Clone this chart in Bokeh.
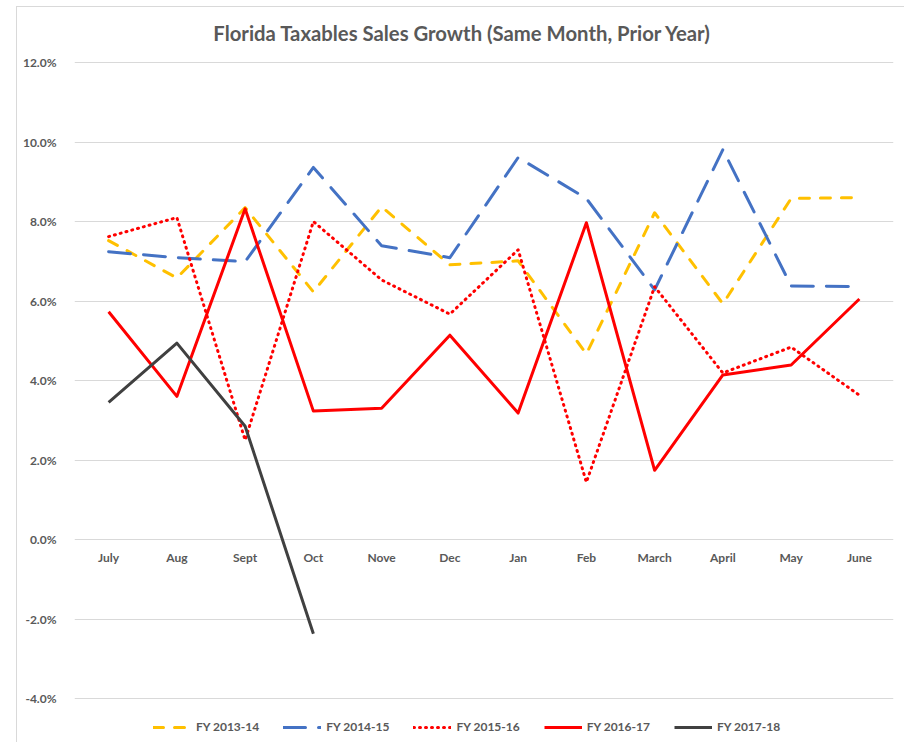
from bokeh.plotting import figure
from bokeh.models import Range1d, FixedTicker, PrintfTickFormatter, Legend, LegendItem, Label
from bokeh.core.properties import value
from bokeh.embed import file_html
from bokeh.resources import INLINE

months = ["July", "Aug", "Sept", "Oct", "Nove", "Dec", "Jan", "Feb", "March", "April", "May", "June"]

fy_2013_14 = [7.52, 6.58, 8.35, 6.23, 8.37, 6.91, 7.01, 4.67, 8.22, 5.93, 8.58, 8.60]
fy_2014_15 = [7.24, 7.09, 6.99, 9.36, 7.39, 7.09, 9.61, 8.58, 6.28, 9.81, 6.38, 6.36]
fy_2015_16 = [7.62, 8.10, 2.50, 8.00, 6.53, 5.67, 7.29, 1.44, 6.36, 4.19, 4.84, 3.63]
fy_2016_17 = [5.73, 3.60, 8.32, 3.23, 3.30, 5.14, 3.18, 7.97, 1.74, 4.14, 4.39, 6.05]
fy_2017_18 = [3.45, 4.94, 2.85, -2.37]

series_names = ["FY 2013-14", "FY 2014-15", "FY 2015-16", "FY 2016-17", "FY 2017-18"]
y_ticks = [-4, -2, 0, 2, 4, 6, 8, 10, 12]
title_text = "Florida Taxables Sales Growth (Same Month, Prior Year)"

FONT = "Lato"
GRAY = "#595959"

# the frame fills the whole chart area (like Excel's chart area); grid/ticks only -4%..12%
p = figure(x_range=months, y_range=Range1d(-5.132, 13.384), width=888, height=736,
           output_backend="svg", toolbar_location=None, x_axis_location=None,
           min_border_left=57, min_border_right=12, min_border_top=0, min_border_bottom=0)
p.styles = {"margin-left": "16px", "margin-top": "6px",
            "border-left": "1px solid #d9d9d9", "border-top": "1px solid #d9d9d9"}

p.outline_line_color = None
p.background_fill_color = "white"
p.border_fill_color = "white"

for g in p.grid:
    if g.dimension == 0:
        g.grid_line_color = None
    else:
        g.grid_line_color = "#d9d9d9"
        g.grid_line_width = 1
p.yaxis.ticker = FixedTicker(ticks=y_ticks)
p.ygrid.ticker = FixedTicker(ticks=y_ticks)
p.yaxis.formatter = PrintfTickFormatter(format="%.1f%%")
p.yaxis.axis_line_color = None
p.yaxis.major_tick_line_color = None
p.yaxis.minor_tick_line_color = None
p.yaxis.major_label_text_font = FONT
p.yaxis.major_label_text_font_size = "12px"
p.yaxis.major_label_text_font_style = "bold"
p.yaxis.major_label_text_color = GRAY
p.yaxis.major_label_standoff = 12

title = Label(text=title_text, x=388, y=711, x_units="screen", y_units="screen",
              text_font=FONT, text_font_size="20.3px", text_font_style="bold",
              text_color=GRAY, text_align="center", text_baseline="middle")
p.add_layout(title)

# category labels sit just under the 0% line, as in the source
p.text(x=months, y=[0] * len(months), text=months, y_offset=18,
       text_font=value(FONT), text_font_size="12px", text_font_style="bold",
       text_color=GRAY, text_align="center", text_baseline="middle")

r1 = p.line(months, fy_2013_14, line_color="#FFC000", line_width=3, line_dash="10 11",
            line_cap="round", line_join="round")
r2 = p.line(months, fy_2014_15, line_color="#4472C4", line_width=3, line_dash="22 13",
            line_cap="round", line_join="round")
r3 = p.line(months, fy_2015_16, line_color="#FF0000", line_width=3, line_dash="1 5",
            line_cap="round", line_join="round")
r4 = p.line(months, fy_2016_17, line_color="#FF0000", line_width=3, line_join="round")
r5 = p.line(months[:len(fy_2017_18)], fy_2017_18, line_color="#404040", line_width=3, line_join="round")

legend = Legend(items=[LegendItem(label=n, renderers=[r]) for n, r in zip(series_names, [r1, r2, r3, r4, r5])],
                orientation="horizontal", location=(79, 9),
                border_line_color=None, background_fill_alpha=0,
                padding=0, margin=0, spacing=24, glyph_width=38, glyph_height=14,
                label_standoff=5, label_height=14,
                label_text_font=FONT, label_text_font_size="12px",
                label_text_font_style="bold", label_text_color=GRAY)
p.add_layout(legend, "center")

open("out.html", "w").write(file_html(p, INLINE))
